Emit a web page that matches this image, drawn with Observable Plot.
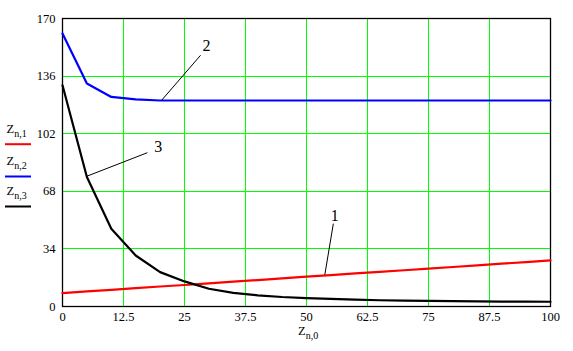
<!DOCTYPE html>
<html>
<head>
<meta charset="utf-8">
<script src="https://cdn.jsdelivr.net/npm/d3@7"></script>
<script src="https://cdn.jsdelivr.net/npm/@observablehq/plot@0.6"></script>
<style>
  html, body { margin: 0; padding: 0; background: #fff; }
  #chart { width: 573px; height: 351px; }
  #chart svg text { font-family: "Liberation Serif", "Times New Roman", serif; }
</style>
</head>
<body>
<div id="chart"></div>
<script>
// ---- data ----
const xValues = [0, 5, 10, 15, 20, 25, 30, 35, 40, 45, 50, 55, 60, 65, 70, 75, 80, 85, 90, 95, 100];
const z1 = [7.9, 8.9, 9.8, 10.8, 11.8, 12.7, 13.7, 14.7, 15.6, 16.6, 17.6, 18.5, 19.5, 20.4, 21.4, 22.4, 23.3, 24.3, 25.3, 26.2, 27.2];
const z2 = [161.2, 131.6, 123.7, 122.3, 121.6, 121.6, 121.6, 121.6, 121.6, 121.6, 121.6, 121.6, 121.6, 121.6, 121.6, 121.6, 121.6, 121.6, 121.6, 121.6, 121.6];
const z3 = [130.6, 76.4, 45.9, 30.1, 20.3, 14.8, 10.5, 8.0, 6.6, 5.6, 5.0, 4.5, 4.0, 3.7, 3.5, 3.3, 3.2, 3.0, 2.9, 2.9, 2.8];
const xTicks = [0, 12.5, 25, 37.5, 50, 62.5, 75, 87.5, 100];
const yTicks = [0, 34, 68, 102, 136, 170];
const xGrid = [12.5, 25, 37.5, 50, 62.5, 75, 87.5];
const yGrid = [34, 68, 102, 136];
const seriesNames = ["1", "2", "3"];
const seriesColors = ["#ff0000", "#0000ff", "#000000"];
const legendNames = ["n,1", "n,2", "n,3"];
const xTitleSub = "n,0";
// leader lines and their labels
const leaders = [
  {label: "1", x1: 53.75, y1: 18.7, x2: 55.5, y2: 48.9, lx: 55.8, ly: 50.2},
  {label: "2", x1: 20.3, y1: 121.7, x2: 28.3, y2: 148.3, lx: 29.5, ly: 150.7},
  {label: "3", x1: 4.9, y1: 76.8, x2: 17.4, y2: 90.8, lx: 19.6, ly: 91.2}
];

const series = [z1, z2, z3];
const rows = series.map((vals, i) => xValues.map((x, j) => ({x, y: vals[j], s: seriesNames[i]})));
const font = "'Liberation Serif', 'Times New Roman', serif";

const chart = Plot.plot({
  width: 573,
  height: 351,
  marginLeft: 62,
  marginRight: 23,
  marginTop: 18,
  marginBottom: 45,
  style: {fontFamily: font, fontSize: "12.5px", background: "#fff", color: "#000"},
  x: {domain: [0, 100], label: null},
  y: {domain: [0, 170], label: null},
  marks: [
    Plot.gridX(xGrid, {stroke: "#00ff00", strokeOpacity: 1, strokeWidth: 1, shapeRendering: "crispEdges"}),
    Plot.gridY(yGrid, {stroke: "#00ff00", strokeOpacity: 1, strokeWidth: 1, shapeRendering: "crispEdges"}),
    Plot.frame({stroke: "#000", strokeWidth: 1.3}),
    Plot.axisX({ticks: xTicks, tickSize: 0, tickPadding: 6, tickFormat: d => String(d), label: null, fill: "#000", fontFamily: font, fontSize: 12.5}),
    Plot.axisY({ticks: yTicks, tickSize: 0, tickPadding: 7, tickFormat: d => String(d), label: null, fill: "#000", fontFamily: font, fontSize: 12.5}),
    ...rows.map((r, i) => Plot.line(r, {x: "x", y: "y", stroke: seriesColors[i], strokeWidth: 2.2})),
    Plot.link(leaders, {x1: "x1", y1: "y1", x2: "x2", y2: "y2", stroke: "#000", strokeWidth: 1}),
    Plot.text(leaders, {x: "lx", y: "ly", text: "label", lineAnchor: "bottom", fontSize: 16, fill: "#000", fontFamily: font})
  ]
});

document.getElementById("chart").appendChild(chart);

// Legend and axis title (MathCAD-style subscripted names)
const svg = d3.select(chart);
const legendBaselines = [132.7, 165, 195];
legendNames.forEach((sub, i) => {
  const t = svg.append("text")
    .attr("x", 6.5).attr("y", legendBaselines[i])
    .attr("text-anchor", "start")
    .attr("font-family", font).attr("font-size", 12.5).attr("fill", "#000");
  t.append("tspan").text("Z");
  t.append("tspan").attr("dy", 4).attr("font-size", 10).text(sub);
  svg.append("line")
    .attr("x1", 5).attr("x2", 31)
    .attr("y1", legendBaselines[i] + 11.5).attr("y2", legendBaselines[i] + 11.5)
    .attr("stroke", seriesColors[i]).attr("stroke-width", 2);
});
const xt = svg.append("text")
  .attr("x", 298).attr("y", 335)
  .attr("text-anchor", "start")
  .attr("font-family", font).attr("font-size", 12.5).attr("fill", "#000");
xt.append("tspan").text("Z");
xt.append("tspan").attr("dy", 3.5).attr("font-size", 10).text(xTitleSub);
</script>
</body>
</html>
